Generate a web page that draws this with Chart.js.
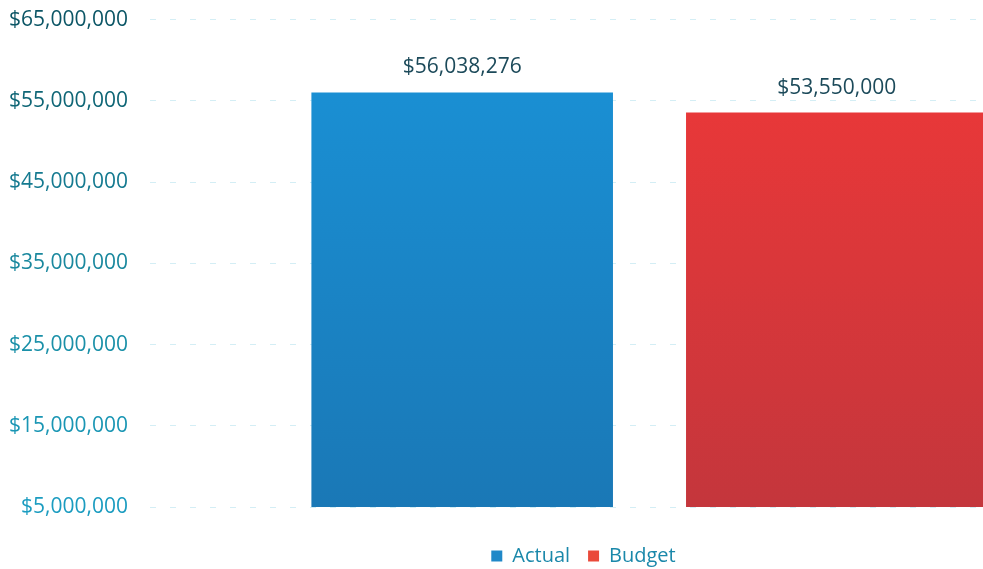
<!DOCTYPE html>
<html>
<head>
<meta charset="utf-8">
<script src="https://cdn.jsdelivr.net/npm/chart.js@4/dist/chart.umd.min.js"></script>
<style>
  html, body { margin: 0; padding: 0; background: #ffffff; overflow: hidden; }
  #wrap { position: absolute; left: 0; top: -15px; width: 1166px; height: 591px; }
</style>
</head>
<body>
<div id="wrap"><canvas id="c"></canvas></div>
<script>
const categories = [''];
const seriesNames = ['Actual', 'Budget'];
const actualValues = [56038276];
const budgetValues = [53550000];
const yMin = 5000000;
const yMax = 65000000;
const yStep = 10000000;

const fmt = v => '$' + Math.round(v).toLocaleString('en-US');

const tickColors = ['#1b9cc0', '#1a96b4', '#1a90a8', '#1a889e', '#157a90', '#0f6676', '#0c5666'];
const FONT = '"Open Sans", sans-serif';

function grad(ctx, top, bottom) {
  const chart = ctx.chart;
  const a = chart.chartArea;
  if (!a) return top;
  const g = chart.ctx.createLinearGradient(0, a.top, 0, a.bottom);
  g.addColorStop(0, top);
  g.addColorStop(1, bottom);
  return g;
}

const valueLabels = {
  id: 'valueLabels',
  afterDatasetsDraw(chart) {
    const ctx = chart.ctx;
    ctx.save();
    ctx.font = '21px ' + FONT;
    ctx.fillStyle = '#1c4a5a';
    ctx.textAlign = 'center';
    ctx.textBaseline = 'middle';
    chart.data.datasets.forEach((ds, i) => {
      const meta = chart.getDatasetMeta(i);
      meta.data.forEach((bar, j) => {
        ctx.fillText(fmt(ds.data[j]), bar.x, bar.y - 25);
      });
    });
    ctx.restore();
  }
};

const legendShift = {
  id: 'legendShift',
  afterLayout(chart) {
    if (chart.legend) {
      chart.legend.left += 9;
      chart.legend.right += 9;
    }
  }
};

new Chart(document.getElementById('c'), {
  type: 'bar',
  data: {
    labels: categories,
    datasets: [
      {
        label: seriesNames[0],
        data: actualValues,
        backgroundColor: ctx => grad(ctx, '#1a93d8', '#1a78b6'),
        borderWidth: 0
      },
      {
        label: seriesNames[1],
        data: budgetValues,
        backgroundColor: ctx => grad(ctx, '#f03838', '#c4363c'),
        borderWidth: 0
      }
    ]
  },
  options: {
    responsive: true,
    maintainAspectRatio: false,
    animation: false,
    layout: { padding: { left: 0, right: 17, top: 6, bottom: 0 } },
    datasets: { bar: { categoryPercentage: 0.75, barPercentage: 0.805 } },
    scales: {
      x: {
        display: true,
        grid: { display: false },
        border: { display: false },
        ticks: { display: false },
        afterFit: s => { s.height = 21; }
      },
      y: {
        min: yMin,
        max: yMax,
        grid: {
          drawTicks: false,
          color: 'rgba(40,170,205,0.2)',
          lineWidth: 1
        },
        border: { display: false, dash: [6, 14] },
        ticks: {
          stepSize: yStep,
          padding: 22,
          font: { family: FONT, size: 21 },
          color: ctx => tickColors[ctx.index] || '#1a8aa0',
          callback: v => fmt(v)
        },
        afterFit: s => { s.width = 150; }
      }
    },
    plugins: {
      legend: {
        position: 'bottom',
        labels: {
          boxWidth: 11,
          boxHeight: 11,
          padding: 18,
          color: '#1a88aa',
          font: { family: FONT, size: 20 },
          generateLabels: chart => seriesNames.map((n, i) => ({
            text: n,
            fillStyle: i === 0 ? '#2088c8' : '#ea4a3a',
            strokeStyle: 'transparent',
            fontColor: '#1a88aa',
            lineWidth: 0,
            datasetIndex: i
          }))
        }
      },
      tooltip: { enabled: false }
    }
  },
  plugins: [valueLabels, legendShift]
});
</script>
</body>
</html>
